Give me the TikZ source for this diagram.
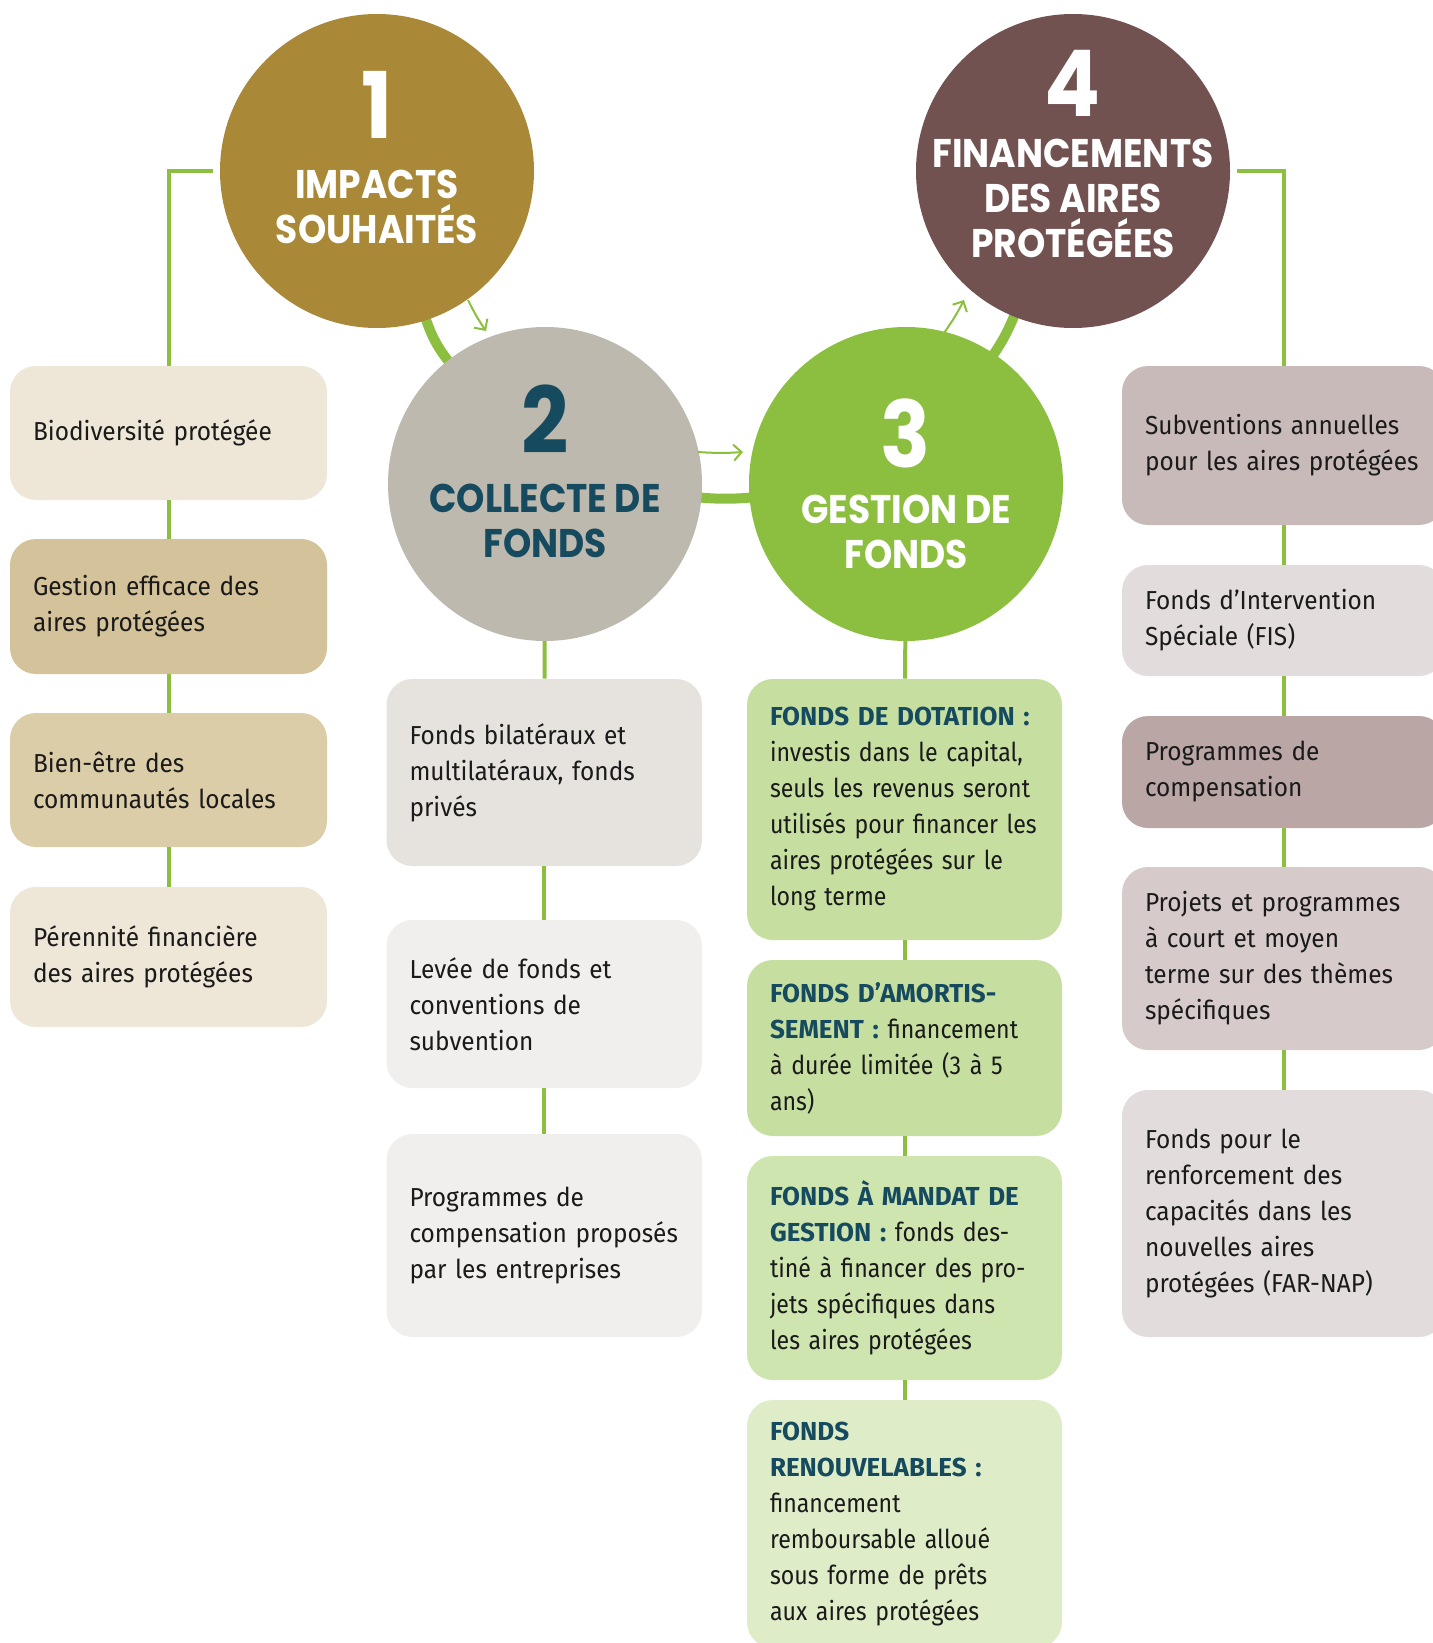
\documentclass[tikz,border=0pt]{standalone}
\usepackage{fontspec}
\usepackage{xcolor}
\newfontfamily\bodyfont{Fira Sans}[FakeStretch=0.94]
\newfontfamily\condfont{Fira Sans}[FakeStretch=0.89]
\newfontfamily\titlefont{Fira Sans}[FakeStretch=1.0]
\newfontfamily\headfont{Poppins}[FakeStretch=0.9]
\usetikzlibrary{positioning, arrows.meta, backgrounds}

\definecolor{impgold}{HTML}{A98837}
\definecolor{colgrey}{HTML}{BEB9AE}
\definecolor{gesgreen}{HTML}{8CBF3F}
\definecolor{finbrown}{HTML}{725250}
\definecolor{fondsblue}{HTML}{164A5F}
\definecolor{ink}{HTML}{1A1A1A}
\definecolor{sandA}{HTML}{EEE6D7}
\definecolor{sandB}{HTML}{D4C39A}
\definecolor{sandC}{HTML}{DCCDA9}
\definecolor{stoneA}{HTML}{E6E3DF}
\definecolor{stoneB}{HTML}{F1EFED}
\definecolor{leafA}{HTML}{C6DFA1}
\definecolor{leafB}{HTML}{CFE5B0}
\definecolor{leafC}{HTML}{DEECC8}
\definecolor{mauveA}{HTML}{C8BAB8}
\definecolor{mauveB}{HTML}{E3DCDC}
\definecolor{mauveC}{HTML}{B9A6A5}
\definecolor{mauveD}{HTML}{D6CBCA}

\newcommand\fondstitle[1]{{\titlefont\bfseries\color{fondsblue}#1}}

\begin{document}
\begin{tikzpicture}[x=0.5pt, y=-0.5pt,
  circ/.style={circle, inner sep=0pt, outer sep=0pt, minimum size=157pt},
  num/.style={inner sep=0pt, font=\headfont\bfseries\fontsize{46}{46}\selectfont},
  head/.style={inner sep=0pt, align=center, font=\headfont\bfseries\fontsize{20}{22.5}\selectfont},
  card/.style={rounded corners=13pt, inner xsep=11.5pt, inner ysep=0pt, align=left, text=ink, font=\bodyfont\fontsize{13}{18}\selectfont},
  colA/.style={card, text width=135.5pt},
  colB/.style={card, text width=134.75pt},
  colC/.style={card, text width=134.5pt, font=\condfont\fontsize{13}{18}\selectfont},
  colD/.style={card, text width=138.5pt},
  link/.style={draw=gesgreen, line width=2pt},
  band/.style={draw=gesgreen, line width=5pt},
  flow/.style={draw=gesgreen, line width=1pt, -{Straight Barb[length=4pt,width=8pt]}}]
\useasboundingbox (0,0) rectangle (1432,1643);

% the four steps
\node[circ, fill=impgold] (c1) at (377,171) {};
\node[circ, fill=colgrey] (c2) at (545,484) {};
\node[circ, fill=gesgreen] (c3) at (906,484) {};
\node[circ, fill=finbrown] (c4) at (1073,171) {};
\node[num, text=white] (n1) at (377,105) {1};
\node[head, text=white] (t1) at (377,206.5) {IMPACTS\\SOUHAITÉS};
\node[num, text=fondsblue] (n2) at (545,419) {2};
\node[head, text=fondsblue] (t2) at (545,521) {COLLECTE DE\\FONDS};
\node[num, text=white] (n3) at (906,433) {3};
\node[head, text=white] (t3) at (906,532) {GESTION DE\\FONDS};
\node[num, text=white] (n4) at (1073,83) {4};
\node[head, text=white] (t4) at (1073,198) {FINANCEMENTS\\DES AIRES\\PROTÉGÉES};

% ring between the steps
\begin{scope}[on background layer]
\draw[band, shorten <=-4pt, shorten >=-4pt] (c1) to[bend right=10] (c2);
\draw[band, shorten <=-4pt, shorten >=-4pt] (c2) to[bend right=5] (c3);
\draw[band, shorten <=-4pt, shorten >=-4pt] (c3) to[bend right=6] (c4);
\end{scope}
\coordinate (a1s) at (468,300);
\coordinate (a1e) at (486,331);
\coordinate (a2s) at (698,452);
\coordinate (a2e) at (743,452);
\coordinate (a3s) at (944,333);
\coordinate (a3e) at (964,300);
\draw[flow] (a1s) to[bend right=4] (a1e);
\draw[flow] (a2s) to[bend right=4] (a2e);
\draw[flow] (a3s) to[bend right=4] (a3e);

% column 1
\node[colA, fill=sandA, minimum height=67pt] (b11) at (168.5,433) {Biodiversité protégée};
\node[colA, fill=sandB, minimum height=67.5pt] (b12) at (168.5,606.5) {Gestion efficace des\\aires protégées};
\node[colA, fill=sandC, minimum height=67pt] (b13) at (168.5,780) {Bien-être des\\communautés locales};
\node[colA, fill=sandA, minimum height=70pt] (b14) at (168.5,957) {Pérennité financière\\des aires protégées};
\draw[link] ([xshift=-3.5pt]c1.west) -| (b11.north);
\draw[link] (b11) -- (b12);
\draw[link] (b12) -- (b13);
\draw[link] (b13) -- (b14);

% column 2
\node[colB, fill=stoneA, minimum height=93.5pt] (b21) at (544.25,772.5) {Fonds bilatéraux et\\multilatéraux, fonds\\privés};
\node[colB, fill=stoneB, minimum height=84pt] (b22) at (544.25,1004) {Levée de fonds et\\conventions de\\subvention};
\node[colB, fill=stoneB, minimum height=101.5pt] (b23) at (544.25,1235.5) {Programmes de\\compensation proposés\\par les entreprises};
\draw[link] (c2) -- (b21);
\draw[link] (b21) -- (b22);
\draw[link] (b22) -- (b23);

% column 3
\node[colC, fill=leafA, minimum height=130.5pt] (b31) at (904.5,809.5) {\fondstitle{FONDS DE DOTATION~:}\\investis dans le capital,\\seuls les revenus seront\\utilisés pour financer les\\aires protégées sur le\\long terme};
\node[colC, fill=leafA, minimum height=88pt] (b32) at (904.5,1048) {\fondstitle{FONDS D’AMORTIS-}\\\fondstitle{SEMENT~:} financement\\à durée limitée (3 à 5\\ans)};
\node[colC, fill=leafB, minimum height=112pt] (b33) at (904.5,1268) {\fondstitle{FONDS À MANDAT DE}\\\fondstitle{GESTION~:} fonds des-\\tiné à financer des pro-\\jets spécifiques dans\\les aires protégées};
\node[colC, fill=leafC, minimum height=124pt] (b34) at (904.5,1524) {\fondstitle{FONDS}\\\fondstitle{RENOUVELABLES~:}\\financement\\remboursable alloué\\sous forme de prêts\\aux aires protégées};
\draw[link] (c3) -- (b31);
\draw[link] (b31) -- (b32);
\draw[link] (b32) -- (b33);
\draw[link] (b33) -- (b34);

% column 4
\node[colD, fill=mauveA, minimum height=79.5pt] (b41) at (1283.5,445.5) {Subventions annuelles\\pour les aires protégées};
\node[colD, fill=mauveB, minimum height=55.5pt] (b42) at (1283.5,620.5) {Fonds d’Intervention\\Spéciale (FIS)};
\node[colD, fill=mauveC, minimum height=56pt] (b43) at (1283.5,772) {Programmes de\\compensation};
\node[colD, fill=mauveD, minimum height=91.5pt] (b44) at (1283.5,958.5) {Projets et programmes\\à court et moyen\\terme sur des thèmes\\spécifiques};
\node[colD, fill=mauveB, minimum height=123.5pt] (b45) at (1283.5,1213.5) {Fonds pour le\\renforcement des\\capacités dans les\\nouvelles aires\\protégées (FAR-NAP)};
\draw[link] ([xshift=3.5pt]c4.east) -| (b41.north);
\draw[link] (b41) -- (b42);
\draw[link] (b42) -- (b43);
\draw[link] (b43) -- (b44);
\draw[link] (b44) -- (b45);
\end{tikzpicture}
\end{document}
